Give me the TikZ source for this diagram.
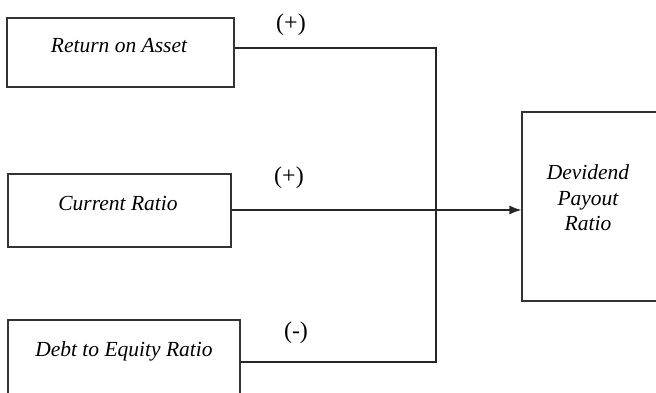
\documentclass[tikz,border=0pt]{standalone}
\usepackage{fontspec}
\setmainfont{Liberation Serif}
\usetikzlibrary{arrows.meta}
\begin{document}
\begin{tikzpicture}
[x=1pt,y=-1pt,
factor/.style={rectangle,draw=black!80,line width=1.2pt,inner sep=0pt},
varname/.style={font=\fontsize{21.5}{25.5}\selectfont\itshape,inner sep=0pt},
sign/.style={font=\fontsize{24}{28}\selectfont,inner sep=0pt},
link/.style={draw=black!85,line width=1.2pt},
outcome/.style={rectangle,draw=black!80,line width=1.2pt,inner sep=0pt}]
\clip (0,0) rectangle (656,393);
\node[factor,minimum width=227pt,minimum height=69pt] (roa) at (120.5,52.5) {};
\node[factor,minimum width=223pt,minimum height=73pt] (cr) at (119.5,210.5) {};
\node[factor,minimum width=232pt,minimum height=80pt] (der) at (124,360) {};
\node[outcome,minimum width=140pt,minimum height=189pt] (dpr) at (592,206.5) {};
\node[varname] (roaname) at (119,46) {Return on Asset};
\node[varname] (crname) at (118,204) {Current Ratio};
\node[varname] (dername) at (124,351) {Debt to Equity Ratio};
\node[varname,align=center] (dprname) at (588,198) {Devidend\\Payout\\Ratio};
\coordinate (top) at (436,48);
\coordinate (mid) at (436,210);
\coordinate (bot) at (436,362);
\draw[link] (roa.east |- top) -- (top) -- (bot) -- (der.east |- bot);
\draw[link,-{Latex[length=12pt,width=9pt]}] (cr.east |- mid) -- (mid -| dpr.west);
\node[sign] (roasign) at (291,25) {(+)};
\node[sign] (crsign) at (289,178) {(+)};
\node[sign] (dersign) at (296,333) {(-)};
\end{tikzpicture}
\end{document}
